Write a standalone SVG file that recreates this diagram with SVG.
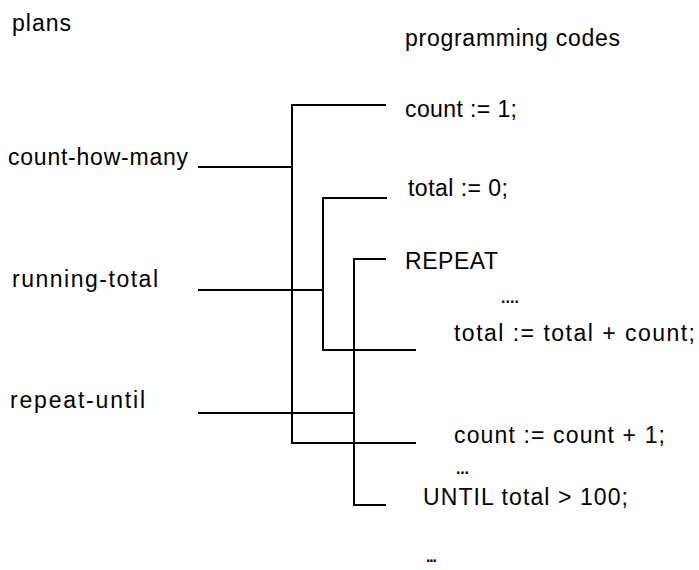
<svg xmlns="http://www.w3.org/2000/svg" width="699" height="570" viewBox="0 0 699 570">
<style>
text{font-family:"Liberation Sans",Arial,sans-serif;font-size:23px;fill:#000}
.c{fill:none;stroke:#000;stroke-width:2;stroke-linecap:square}
</style>
<rect width="699" height="570" fill="#fff"/>
<g id="headings">
<text x="12" y="31" textLength="59" lengthAdjust="spacing">plans</text>
<text x="405" y="46" textLength="215" lengthAdjust="spacing">programming codes</text>
</g>
<g id="plan-count-how-many"><text x="8" y="165" textLength="180" lengthAdjust="spacing">count-how-many</text></g>
<g id="plan-running-total"><text x="12" y="287" textLength="146" lengthAdjust="spacing">running-total</text></g>
<g id="plan-repeat-until"><text x="10" y="408" textLength="135" lengthAdjust="spacing">repeat-until</text></g>
<g id="code-count-init"><text x="405" y="117" textLength="112" lengthAdjust="spacing">count := 1;</text></g>
<g id="code-total-init"><text x="408" y="196" textLength="100" lengthAdjust="spacing">total := 0;</text></g>
<g id="code-repeat"><text x="405" y="269" textLength="93" lengthAdjust="spacing">REPEAT</text></g>
<g id="code-dots1"><text x="500" y="303" textLength="20" lengthAdjust="spacing">....</text></g>
<g id="code-total-add"><text x="454" y="341" textLength="241" lengthAdjust="spacing">total := total + count;</text></g>
<g id="code-count-inc"><text x="454" y="443" textLength="211" lengthAdjust="spacing">count := count + 1;</text></g>
<g id="code-dots2"><text x="455" y="474" textLength="15" lengthAdjust="spacing">...</text></g>
<g id="code-until"><text x="423" y="505" textLength="205" lengthAdjust="spacing">UNTIL total &gt; 100;</text></g>
<g id="code-dots3"><text x="425" y="562" textLength="13" lengthAdjust="spacing">...</text></g>
<g id="connectors">
<path class="c" d="M199,167H292M385,105H292V443H415"/>
<path class="c" d="M199,290H323M386,198H323V350H415"/>
<path class="c" d="M199,413H354M385,259H354V505H385"/>
</g>
</svg>
